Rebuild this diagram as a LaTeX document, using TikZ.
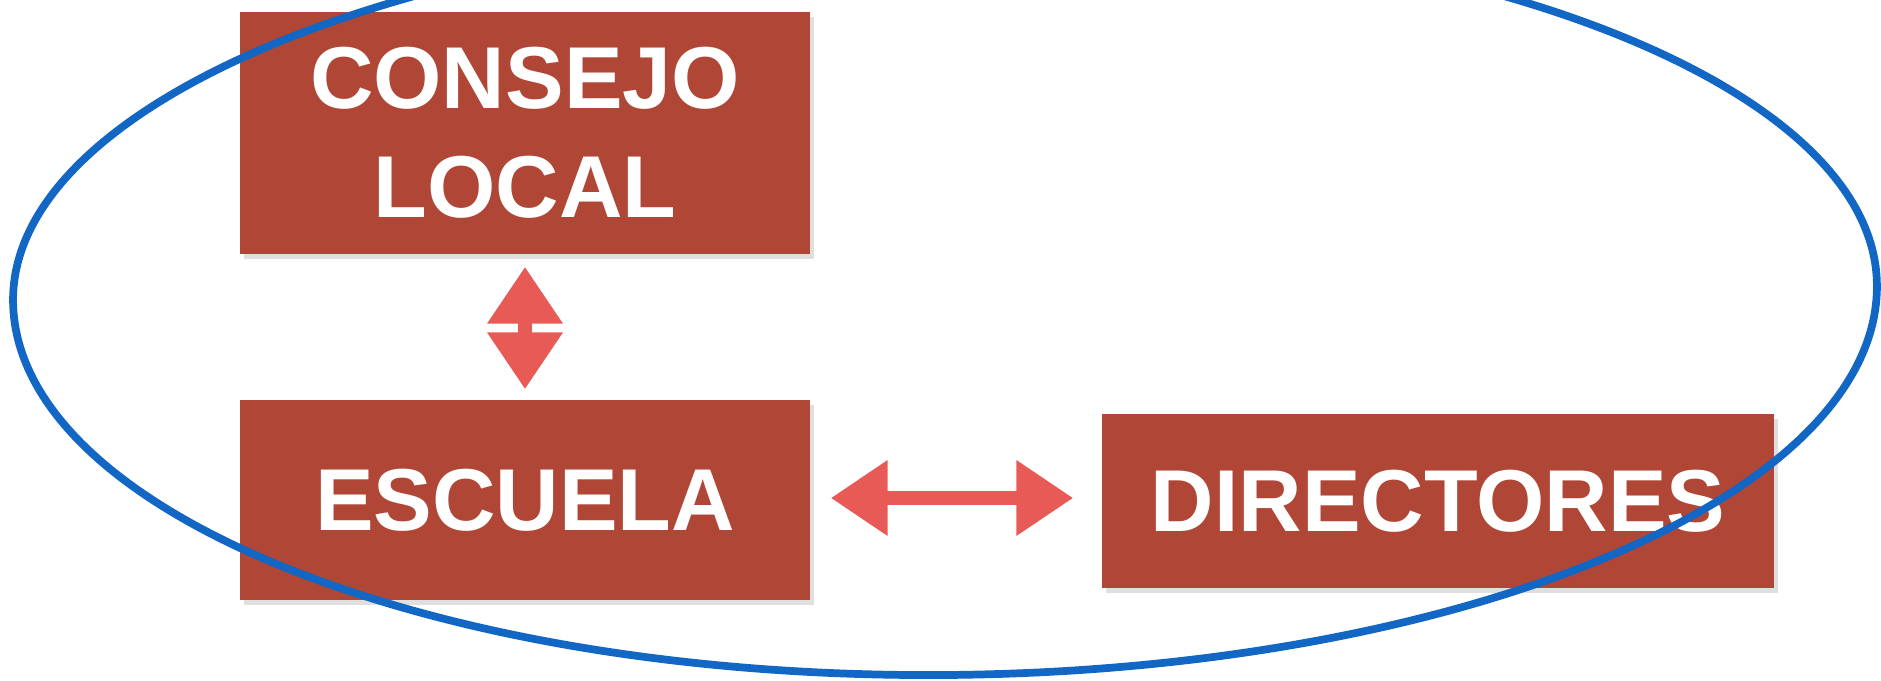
\documentclass[tikz,border=0pt]{standalone}
\usepackage{fontspec}
\setmainfont{Liberation Sans}
\usetikzlibrary{
    arrows.meta,
    positioning,
    shadows
}
\definecolor{boxred}{RGB}{176,70,54}
\definecolor{arrowred}{RGB}{232,90,85}
\definecolor{chalkblue}{RGB}{18,102,196}
\tikzset{
    % Box styles
    org box/.style={
        fill=boxred,
        rectangle,
        text=white,
        align=center,
        font=\fontsize{25}{31}\selectfont\bfseries,
        drop shadow={shadow xshift=1pt, shadow yshift=-1.5pt, opacity=0.25}
    },
    % Arrow styles
    link arrow/.style={
        {Triangle[width=0.72cm,length=0.57cm]}-{Triangle[width=0.72cm,length=0.57cm]},
        line width=0.14cm,
        arrowred
    },
    group ring/.style={
        chalkblue,
        line width=2.2pt
    }
}

\begin{document}
\begin{tikzpicture}
        \useasboundingbox (0,0) rectangle (18.81,6.80);
        \clip (0,0) rectangle (18.81,6.80);

        % Boxes
        \node[org box, minimum width=5.70cm, minimum height=2.42cm] at (5.25,5.47) (consejo) {CONSEJO\\LOCAL};
        \node[org box, minimum width=5.70cm, minimum height=2.00cm] at (5.25,1.80) (escuela) {ESCUELA};
        \node[org box, minimum width=6.72cm, minimum height=1.74cm] at (14.38,1.79) (directores) {DIRECTORES};

        % Connections
        \draw[link arrow, shorten <=0.12cm, shorten >=0.10cm] (consejo.south) -- (escuela.north);
        \draw[link arrow, shorten <=0.20cm, shorten >=0.28cm] (escuela.east |- 0,1.82) -- (directores.west |- 0,1.82);

        % Group (hand-drawn ring, flatter on top)
        \draw[group ring, rotate around={0.5:(9.45,3.87)}]
            (18.77,3.87) arc[start angle=0, end angle=180, x radius=9.32cm, y radius=3.66cm]
            arc[start angle=180, end angle=360, x radius=9.32cm, y radius=3.82cm] -- cycle;
    \end{tikzpicture}
\end{document}
